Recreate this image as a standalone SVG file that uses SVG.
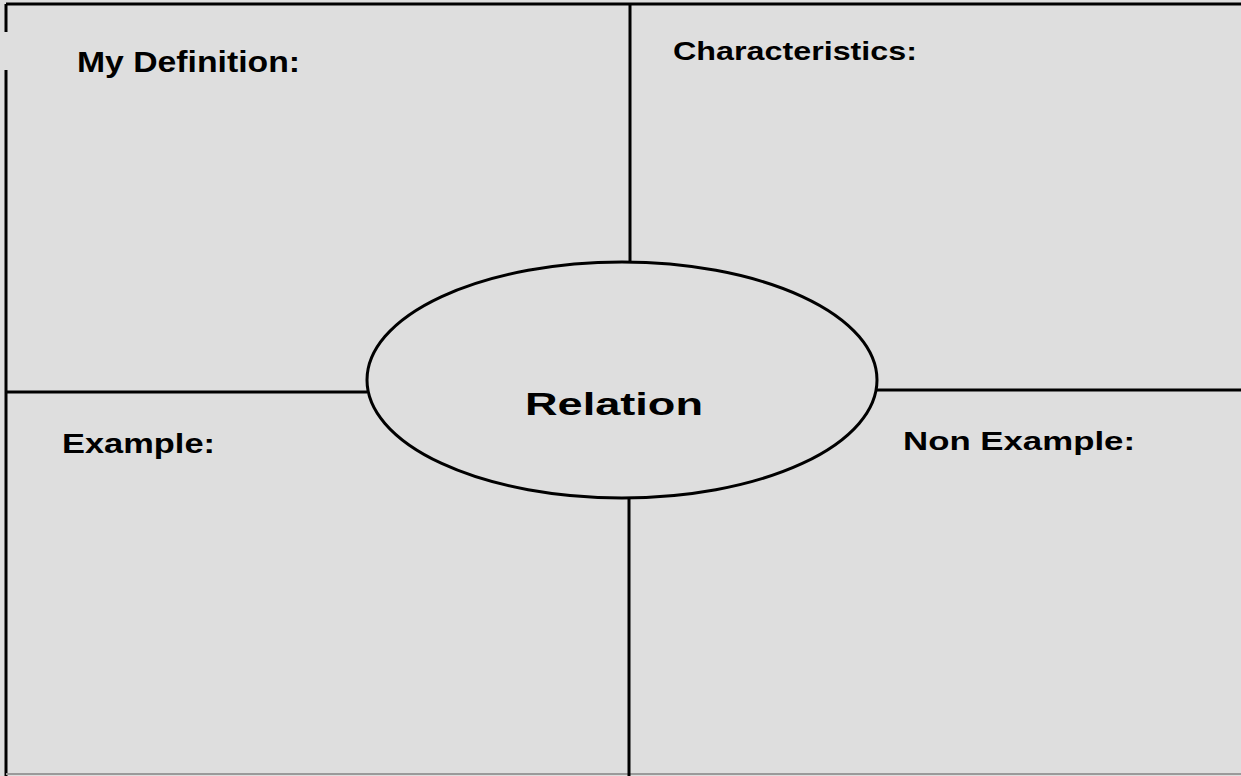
<svg xmlns="http://www.w3.org/2000/svg" width="1241" height="776" viewBox="0 0 1241 776">
  <style>
    .bg { fill: #dedede; }
    .line { stroke: #000; stroke-width: 3; fill: none; }
    .label { font-family: "Liberation Sans", Arial, sans-serif; font-weight: bold; fill: #000; }
  </style>
  <rect class="bg" x="0" y="0" width="1241" height="776"/>
  <g id="grid">
    <line class="line" x1="6" y1="4" x2="1241" y2="4"/>
    <line class="line" x1="6" y1="4" x2="6" y2="32"/>
    <line class="line" x1="6" y1="70" x2="6" y2="776"/>
    <line x1="6" y1="774" x2="1241" y2="774" stroke="#9a9a9a" stroke-width="2"/>
    <line class="line" x1="630" y1="4" x2="630" y2="262"/>
    <line class="line" x1="629" y1="498" x2="629" y2="776"/>
    <line class="line" x1="6" y1="392" x2="367" y2="392"/>
    <line class="line" x1="877" y1="390" x2="1241" y2="390"/>
  </g>
  <g id="definition">
    <text class="label" x="77" y="72" font-size="29" textLength="223" lengthAdjust="spacingAndGlyphs">My Definition:</text>
  </g>
  <g id="characteristics">
    <text class="label" x="673" y="60" font-size="25" textLength="244" lengthAdjust="spacingAndGlyphs">Characteristics:</text>
  </g>
  <g id="example">
    <text class="label" x="62" y="453" font-size="28" textLength="153" lengthAdjust="spacingAndGlyphs">Example:</text>
  </g>
  <g id="non-example">
    <text class="label" x="903" y="450" font-size="26" textLength="232" lengthAdjust="spacingAndGlyphs">Non Example:</text>
  </g>
  <g id="relation">
    <ellipse class="line" cx="622" cy="380" rx="255" ry="118" stroke-width="2.5"/>
    <text class="label" x="525" y="415" font-size="31" textLength="178" lengthAdjust="spacingAndGlyphs">Relation</text>
  </g>
</svg>
